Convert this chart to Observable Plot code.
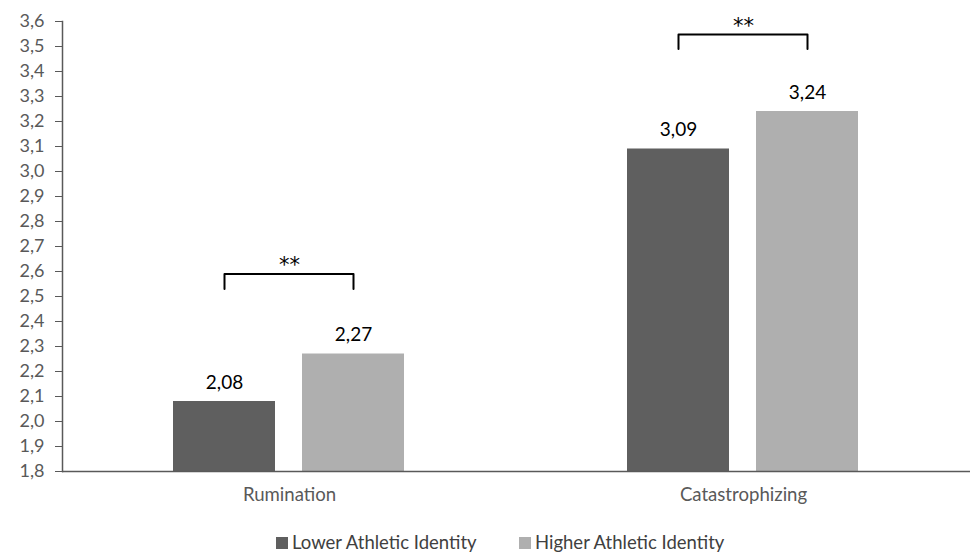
<!DOCTYPE html>
<html><head><meta charset="utf-8">
<script src="https://cdn.jsdelivr.net/npm/d3@7"></script>
<script src="https://cdn.jsdelivr.net/npm/@observablehq/plot@0.6"></script>
<style>
html,body{margin:0;background:#fff;font-family:Lato,"Liberation Sans",sans-serif;}
#chart svg{display:block;}
#legend{position:relative;height:28px;}
#legend .item{position:absolute;top:9px;height:19px;line-height:19px;font-size:18.5px;color:#404040;display:flex;align-items:center;white-space:nowrap;}
#legend .sw{width:12px;height:12px;margin-right:4px;display:inline-block;}
</style></head>
<body><div id="chart"></div><div id="legend"></div>
<script>
const categories = ["Rumination", "Catastrophizing"];
const groups = ["Lower Athletic Identity", "Higher Athletic Identity"];
const lowerValues = [2.08, 3.09];
const higherValues = [2.27, 3.24];
const groupColors = ["#5f5f5f", "#afafaf"];
const yTicks = [1.8,1.9,2.0,2.1,2.2,2.3,2.4,2.5,2.6,2.7,2.8,2.9,3.0,3.1,3.2,3.3,3.4,3.5,3.6];
const sigLabels = ["**", "**"];
const bracketTop = [2.59, 3.548];
const bracketLeg = [2.53, 3.49];
const legendLeft = [276, 519];

const fmt = v => v.toFixed(2).replace(".", ",");
const fmt1 = v => v.toFixed(1).replace(".", ",");

const bars = [];
categories.forEach((c, i) => {
  bars.push({category: c, group: groups[0], value: lowerValues[i]});
  bars.push({category: c, group: groups[1], value: higherValues[i]});
});
const bracketPts = [];
categories.forEach((c, i) => {
  bracketPts.push({category: c, group: groups[0], y: bracketLeg[i]});
  bracketPts.push({category: c, group: groups[0], y: bracketTop[i]});
  bracketPts.push({category: c, group: groups[1], y: bracketTop[i]});
  bracketPts.push({category: c, group: groups[1], y: bracketLeg[i]});
});
const sigRows = categories.map((c, i) => ({category: c, y: bracketTop[i], label: sigLabels[i]}));

const chart = Plot.plot({
  width: 970, height: 524,
  marginLeft: 62, marginRight: 0, marginTop: 21, marginBottom: 53,
  style: {fontFamily: "Lato, 'Liberation Sans', sans-serif", background: "white"},
  fx: {domain: categories, padding: 0, label: null},
  x: {domain: groups, paddingInner: 0.209, paddingOuter: 0.864, axis: null},
  y: {domain: [1.8, 3.6], label: null},
  color: {domain: groups, range: groupColors},
  marks: [
    Plot.barY(bars, {fx: "category", x: "group", y1: 1.8, y2: "value", fill: "group"}),
    Plot.ruleY([1.8], {stroke: "#595959", strokeWidth: 1.5}),
    Plot.frame({anchor: "left", facetAnchor: "left", stroke: "#595959", strokeWidth: 1.5}),
    Plot.axisY({ticks: yTicks, tickFormat: fmt1, tickSize: 7, tickPadding: 11, fontSize: 18, color: "#595959", label: null}),
    Plot.axisFx({anchor: "bottom", tickSize: 0, tickPadding: 16, fontSize: 18.6, color: "#595959", label: null}),
    Plot.text(bars, {fx: "category", x: "group", y: "value", text: d => fmt(d.value), lineAnchor: "bottom", dy: -13, fontSize: 19, fill: "#000"}),
    Plot.line(bracketPts, {fx: "category", x: "group", y: "y", z: "category", stroke: "#000", strokeWidth: 2}),
    Plot.text(sigRows, {fx: "category", y: "y", text: "label", lineAnchor: "bottom", dy: -2, fontSize: 21, fontFamily: "DejaVu Sans", fill: "#000"})
  ]
});
document.getElementById("chart").appendChild(chart);

const legend = document.getElementById("legend");
groups.forEach((g, i) => {
  const item = document.createElement("div");
  item.className = "item";
  item.style.left = legendLeft[i] + "px";
  const sw = document.createElement("span");
  sw.className = "sw";
  sw.style.background = groupColors[i];
  item.appendChild(sw);
  item.appendChild(document.createTextNode(g));
  legend.appendChild(item);
});
</script>
</body></html>
